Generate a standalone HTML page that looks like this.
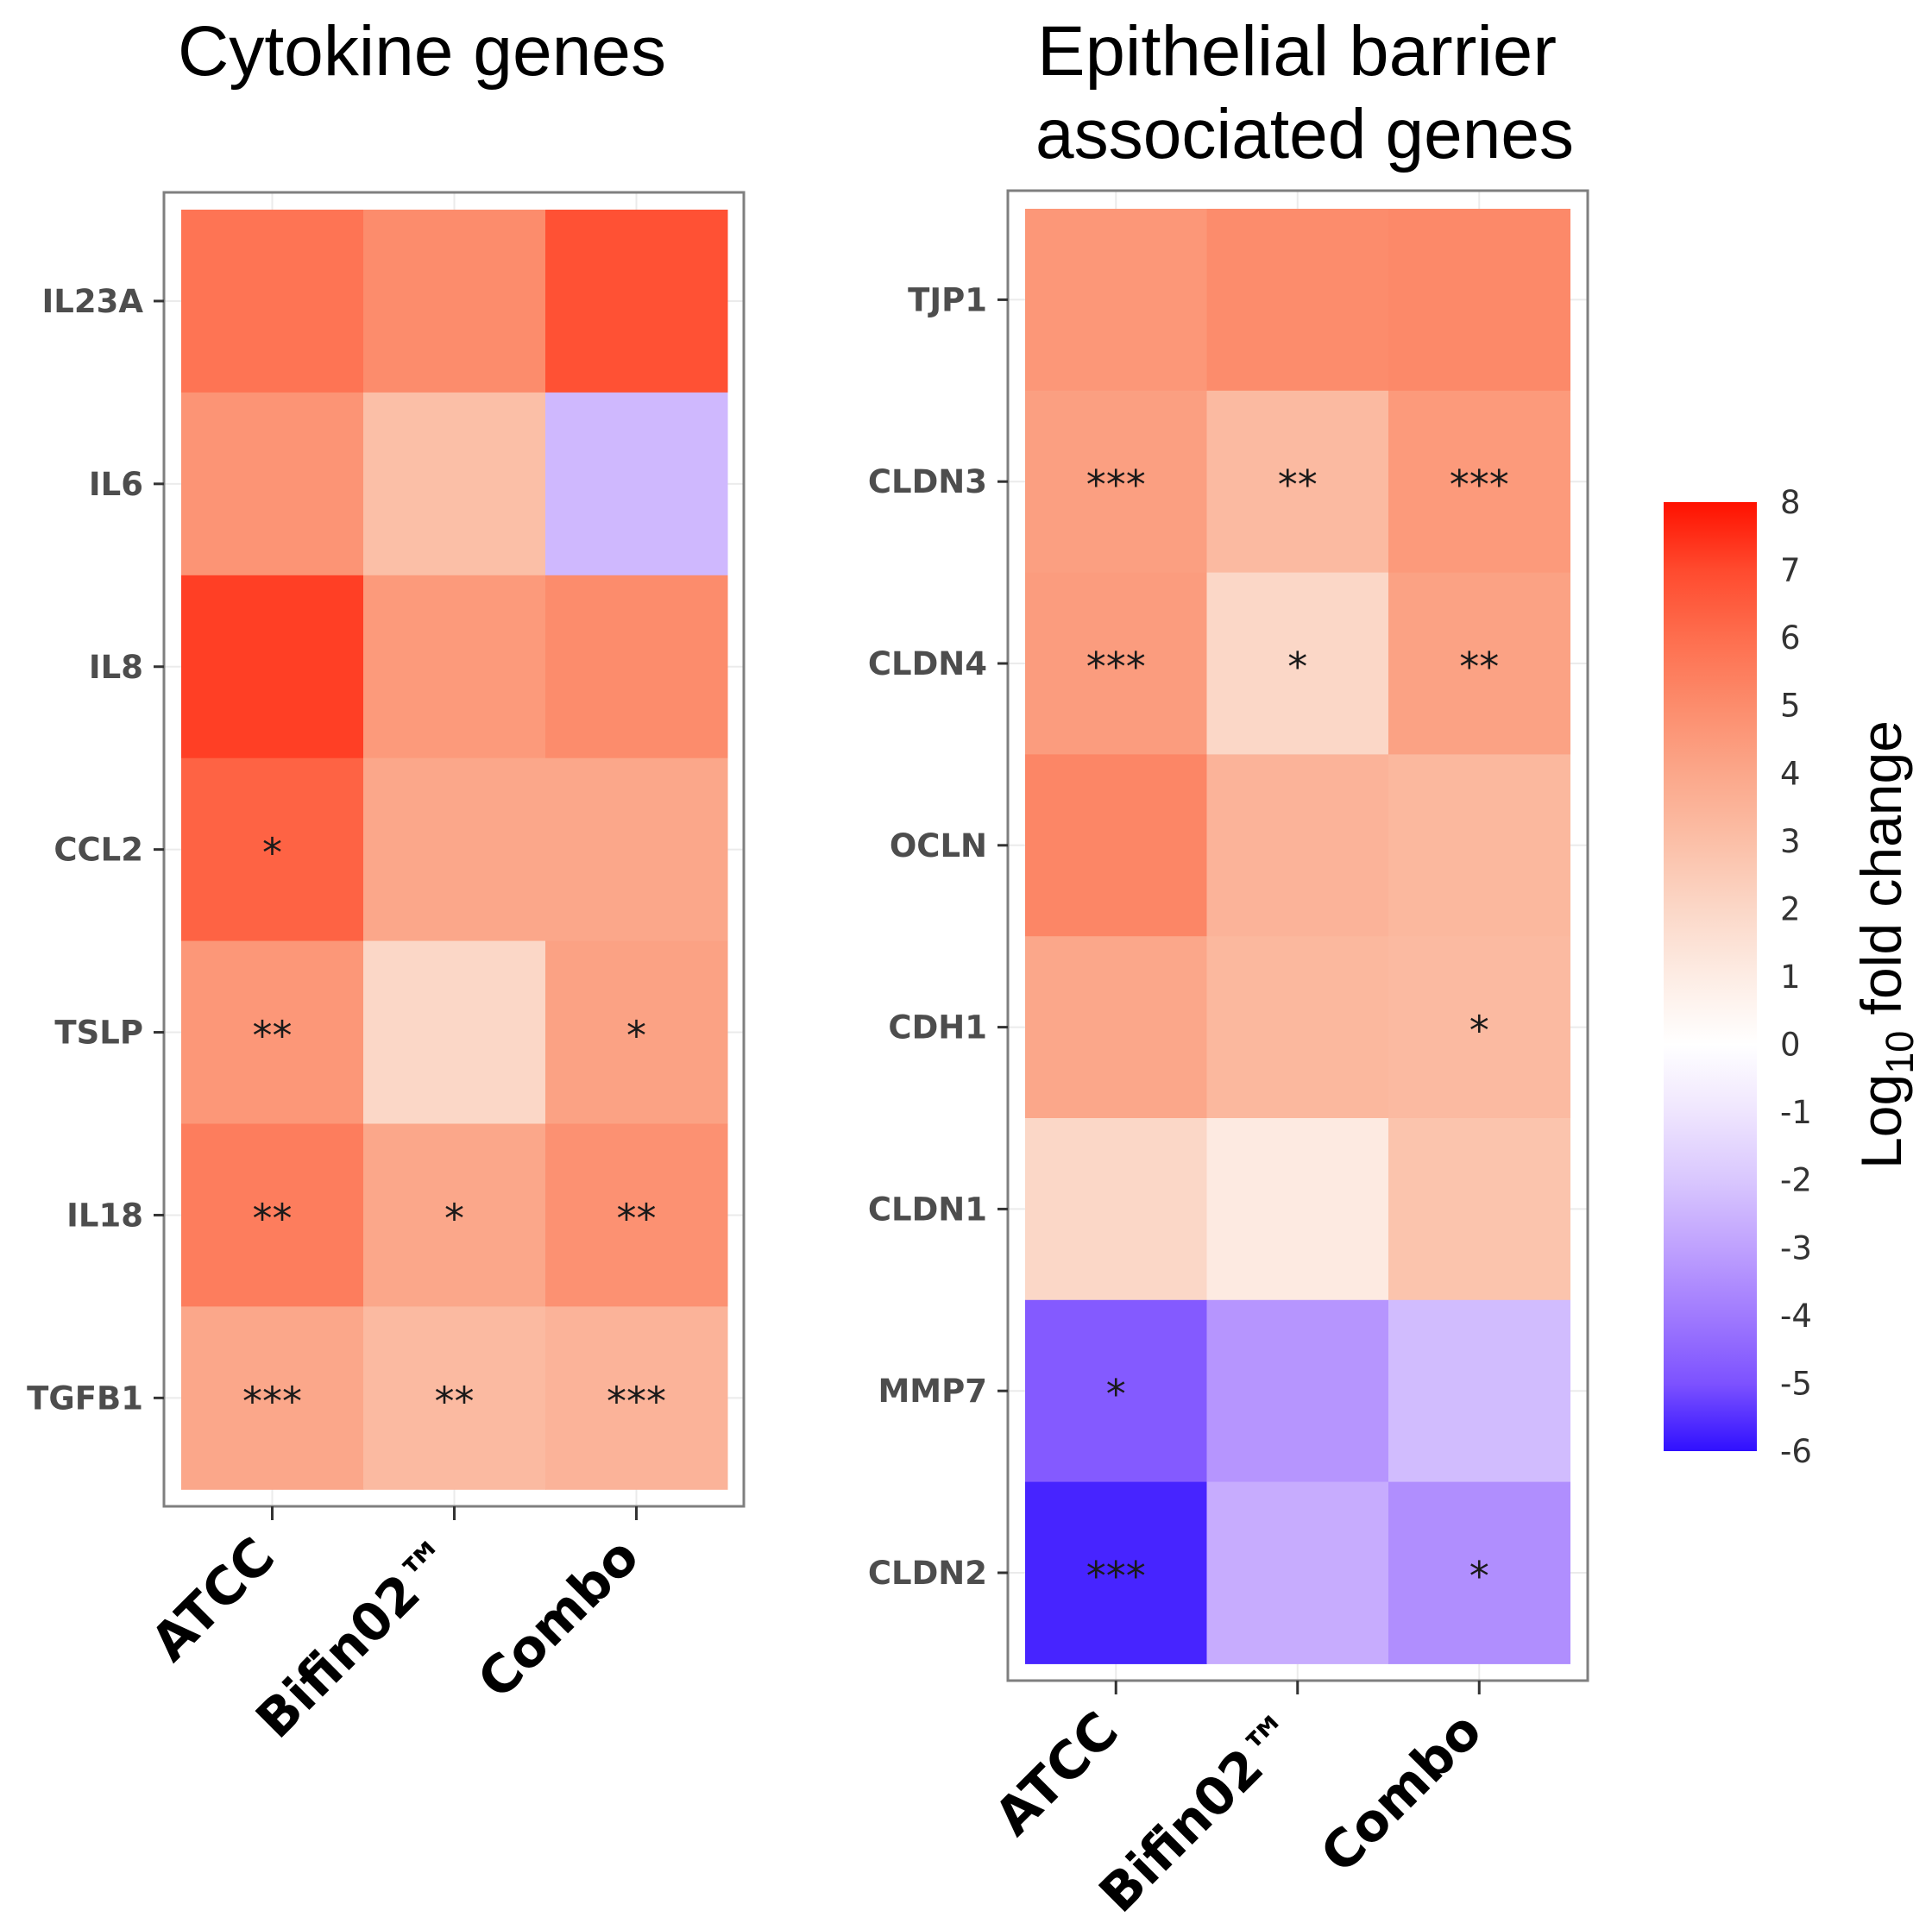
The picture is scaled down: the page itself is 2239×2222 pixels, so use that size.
<!DOCTYPE html>
<html><head><meta charset="utf-8"><style>
html,body{margin:0;padding:0;background:#fff;}
svg{display:block;}
</style></head><body>
<svg id="chart" width="2239" height="2222" viewBox="0 0 2239 2222" xmlns="http://www.w3.org/2000/svg">
<text x="489" y="87" text-anchor="middle" font-family="Liberation Sans, sans-serif" font-size="82" textLength="566" lengthAdjust="spacingAndGlyphs">Cytokine genes</text>
<text x="1503" y="87" text-anchor="middle" font-family="Liberation Sans, sans-serif" font-size="82" textLength="602" lengthAdjust="spacingAndGlyphs">Epithelial barrier</text>
<text x="1512" y="183" text-anchor="middle" font-family="Liberation Sans, sans-serif" font-size="82" textLength="624" lengthAdjust="spacingAndGlyphs">associated genes</text>
<g id="left"></g>
<g id="right"></g>
<g id="legend"></g>
</svg>
<script>
// ---- data ----
const conditions = ["ATCC", "Bifin02\u2122", "Combo"];
const cytokineGenes = ["IL23A","IL6","IL8","CCL2","TSLP","IL18","TGFB1"];
const cytokineATCC  = [5.8, 4.7, 7.2, 6.3, 4.6, 5.5, 4.0];
const cytokineBifin = [5.0, 3.0, 4.5, 4.0, 2.0, 4.0, 3.2];
const cytokineCombo = [6.8, -2.4, 5.0, 4.0, 4.2, 4.8, 3.5];
const cytokineSigATCC  = ["", "", "", "*", "**", "**", "***"];
const cytokineSigBifin = ["", "", "", "", "", "*", "**"];
const cytokineSigCombo = ["", "", "", "", "*", "**", "***"];
const barrierGenes = ["TJP1","CLDN3","CLDN4","OCLN","CDH1","CLDN1","MMP7","CLDN2"];
const barrierATCC  = [4.6, 4.3, 4.4, 5.2, 4.0, 2.0, -4.8, -5.7];
const barrierBifin = [5.0, 3.2, 2.0, 3.5, 3.3, 1.1, -3.3, -2.7];
const barrierCombo = [5.1, 4.5, 4.2, 3.3, 3.2, 2.8, -2.3, -3.5];
const barrierSigATCC  = ["", "***", "***", "", "", "", "*", "***"];
const barrierSigBifin = ["", "**", "*", "", "", "", "", ""];
const barrierSigCombo = ["", "***", "**", "", "*", "", "", "*"];
const legendTicks = [8,7,6,5,4,3,2,1,0,-1,-2,-3,-4,-5,-6];

// ---- colour scale ----
const stops = [[8,"#ff1100"],[7,"#ff4a2e"],[6,"#fe6e4e"],[5,"#fc8c6c"],[4,"#fba78a"],[3,"#fbbfa7"],[2,"#fbd7c7"],[1,"#fdece4"],[0,"#ffffff"],[-1,"#efe5fe"],[-2,"#d9c7fe"],[-3,"#bfa1fe"],[-4,"#a07afe"],[-5,"#7d52ff"],[-6,"#3010ff"]];
function hex(h){return [1,3,5].map(i=>parseInt(h.substr(i,2),16));}
function color(v){
  v=Math.max(-6,Math.min(8,v));
  for(let i=0;i<stops.length-1;i++){
    const [a,ca]=stops[i],[b,cb]=stops[i+1];
    if(v<=a&&v>=b){const t=(a-v)/(a-b);const A=hex(ca),B=hex(cb);
      return "rgb("+A.map((x,k)=>Math.round(x+(B[k]-x)*t)).join(",")+")";}
  }
  return stops[0][1];
}
const NS="http://www.w3.org/2000/svg";
function el(tag,attrs,parent){const e=document.createElementNS(NS,tag);for(const k in attrs)e.setAttribute(k,attrs[k]);parent.appendChild(e);return e;}

function panel(g,cfg){
  const {genes,series,sigs,bx0,bx1,by0,by1,tx0,ty0,cw,rh,key}=cfg;
  const xScale=c=>tx0+cw*c;
  const yScale=r=>ty0+rh*r;
  const bg=el("rect",{x:bx0,y:by0,width:bx1-bx0,height:by1-by0,fill:"#fff"},g);
  
  
  for(let c=0;c<3;c++){const x=xScale(c)+cw/2;
    const gl=el("line",{x1:x,x2:x,y1:by0,y2:by1,stroke:"#ebebeb","stroke-width":2},g);
    
    }
  genes.forEach((gn,r)=>{const y=yScale(r)+rh/2;
    const gl=el("line",{x1:bx0,x2:bx1,y1:y,y2:y,stroke:"#ebebeb","stroke-width":2},g);
    
    });
  series.forEach((vals,c)=>{vals.forEach((v,r)=>{
    const t=el("rect",{x:xScale(c),y:yScale(r),width:cw+0.5,height:rh+0.5,fill:color(v)},g);
    
    
    const s=sigs[c][r];
    if(s){const tx=el("text",{x:xScale(c)+cw/2,y:yScale(r)+rh/2+20,"text-anchor":"middle","font-family":"DejaVu Sans, sans-serif","font-size":46,fill:"#1a1a1a"},g);
      tx.textContent=s;
      
      }
  });});
  const border=el("rect",{x:bx0,y:by0,width:bx1-bx0,height:by1-by0,fill:"none",stroke:"#7f7f7f","stroke-width":3},g);
  
  
  genes.forEach((gn,r)=>{const y=yScale(r)+rh/2;
    const tk=el("line",{x1:bx0-12,x2:bx0,y1:y,y2:y,stroke:"#333","stroke-width":3},g);
    
    
    const lb=el("text",{x:bx0-24,y:y+13,"text-anchor":"end","font-family":"DejaVu Sans, sans-serif","font-weight":"bold","font-size":37,fill:"#4d4d4d"},g);
    lb.textContent=gn;
    
    });
  conditions.forEach((cn,c)=>{const x=xScale(c)+cw/2;
    const tk=el("line",{x1:x,x2:x,y1:by1,y2:by1+16,stroke:"#333","stroke-width":3},g);
    
    
    const ly=by1+62, lx=x+6;
    const lb=el("text",{x:lx,y:ly,"text-anchor":"end","font-family":"DejaVu Sans, sans-serif","font-weight":"bold","font-size":60,fill:"#000",transform:"rotate(-45 "+lx+" "+ly+")"},g);
    lb.textContent=cn;
    
    });
}
panel(document.getElementById("left"),{genes:cytokineGenes,series:[cytokineATCC,cytokineBifin,cytokineCombo],sigs:[cytokineSigATCC,cytokineSigBifin,cytokineSigCombo],bx0:190,bx1:862,by0:223,by1:1746,tx0:210,ty0:243,cw:211,rh:211.9,key:"cytokine"});
panel(document.getElementById("right"),{genes:barrierGenes,series:[barrierATCC,barrierBifin,barrierCombo],sigs:[barrierSigATCC,barrierSigBifin,barrierSigCombo],bx0:1168,bx1:1840,by0:221,by1:1948,tx0:1188,ty0:242,cw:210.5,rh:210.8,key:"barrier"});

const lg=document.getElementById("legend");
const defs=el("defs",{},lg);
const grad=el("linearGradient",{id:"cb",x1:0,y1:0,x2:0,y2:1},defs);
stops.forEach(([v,c])=>{el("stop",{offset:((8-v)/14),"stop-color":c},grad);});
const cy0=582,cy1=1682;
const cbar=el("rect",{x:1928,y:cy0,width:108,height:cy1-cy0,fill:"url(#cb)"},lg);


const ly=v=>cy0+(8-v)/14*(cy1-cy0);
legendTicks.forEach(v=>{
  const t=el("text",{x:2063,y:ly(v)+13,"font-family":"DejaVu Sans, sans-serif","font-size":37,fill:"#333"},lg);
  t.textContent=String(v);
  
  
});
const lt=el("text",{x:2203,y:1095,"text-anchor":"middle","font-family":"Liberation Sans, sans-serif","font-size":66,fill:"#000",transform:"rotate(-90 2203 1095)"},lg);


lt.innerHTML='Log<tspan font-size="45" dy="14">10</tspan><tspan dy="-14"> fold change</tspan>';
</script>
</body></html>
